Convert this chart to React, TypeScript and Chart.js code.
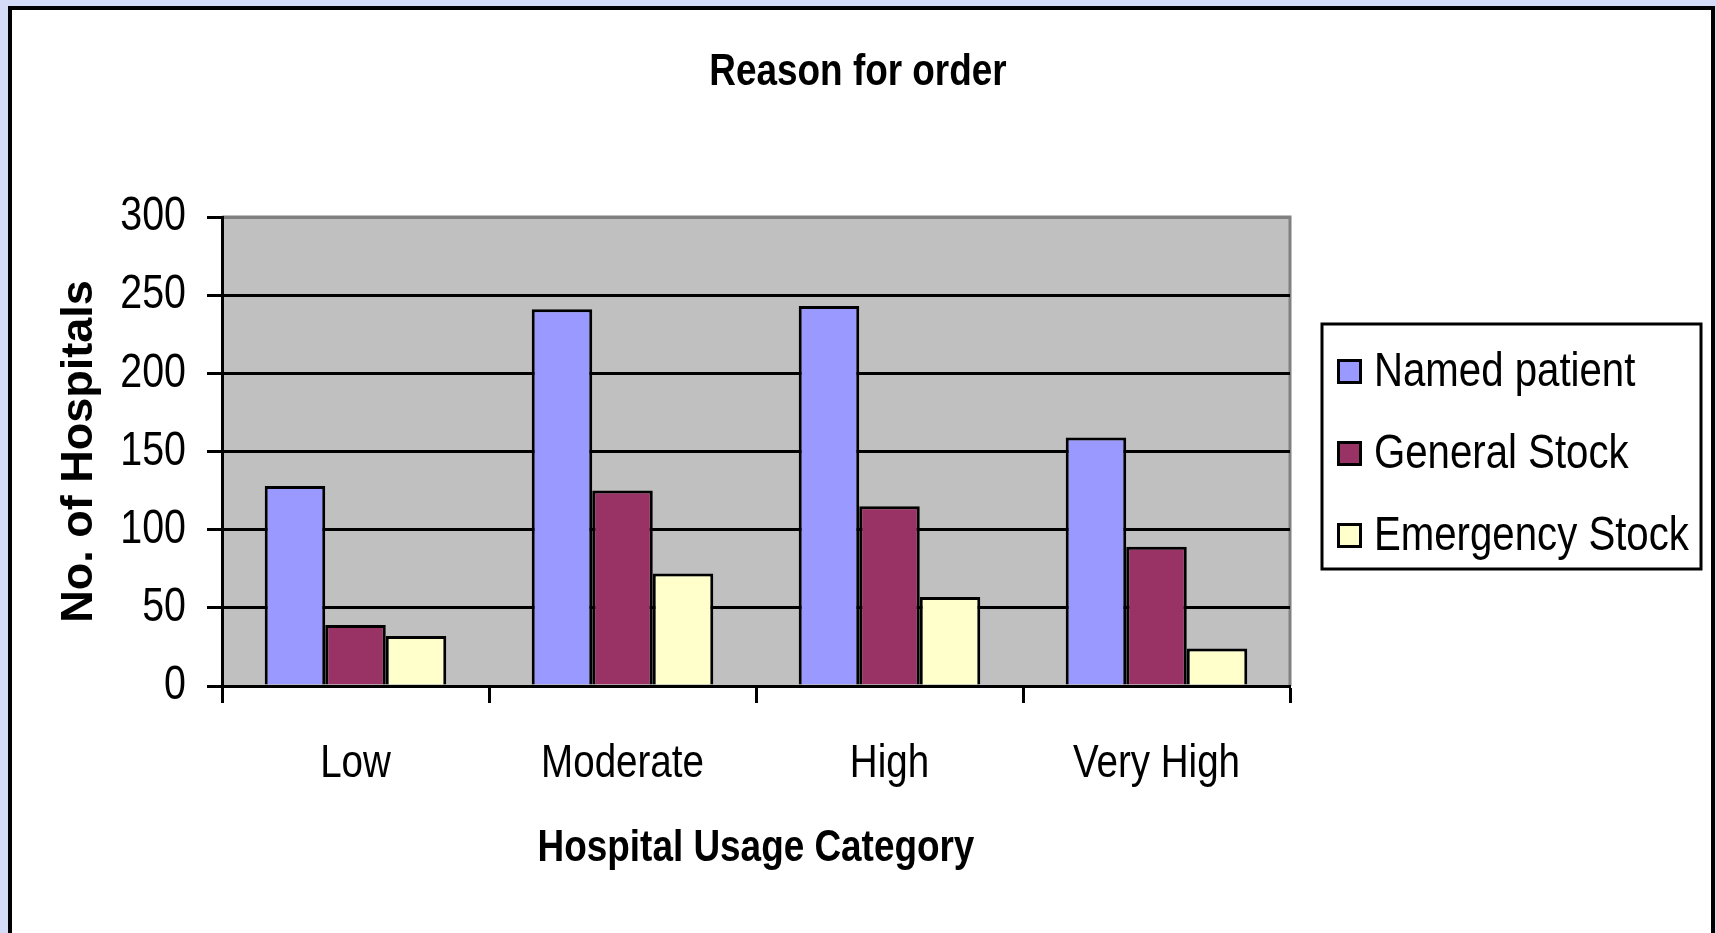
import React, { useEffect, useRef } from "react";
import { Chart, registerables } from "chart.js";

Chart.register(...registerables);

const categories = ["Low", "Moderate", "High", "Very High"];
const seriesNames = ["Named patient", "General Stock", "Emergency Stock"];
const namedPatient = [128, 241, 243, 159];
const generalStock = [39, 125, 115, 89];
const emergencyStock = [32, 72, 57, 24];
const seriesValues = [namedPatient, generalStock, emergencyStock];
const seriesColors = ["#9999FF", "#993366", "#FFFFCC"];
const yMin = 0;
const yMax = 300;
const yStep = 50;

// "Narrow" text is drawn with Liberation Sans squeezed horizontally (Arial Narrow look-alike)
const NARROW = '"Liberation Sans Narrow", "Liberation Sans", Arial, sans-serif';
const WIDE = '"Liberation Sans", Arial, sans-serif';
const NARROW_SCALE = 0.82;

function installNarrow(ctx: any) {
  if (ctx.__narrowInstalled) return;
  ctx.__narrowInstalled = true;
  const orig = ctx.fillText.bind(ctx);
  ctx.fillText = function (text: string, x: number, y: number, maxWidth?: number) {
    if (String(ctx.font).indexOf("Narrow") >= 0) {
      ctx.save();
      ctx.translate(x, y);
      ctx.scale(NARROW_SCALE, 1);
      if (maxWidth === undefined) orig(text, 0, 0);
      else orig(text, 0, 0, maxWidth / NARROW_SCALE);
      ctx.restore();
    } else if (maxWidth === undefined) {
      orig(text, x, y);
    } else {
      orig(text, x, y, maxWidth);
    }
  };
}

const plotBg = {
  id: "plotBg",
  beforeDraw(chart: any) {
    const { ctx, chartArea: a } = chart;
    ctx.save();
    ctx.fillStyle = "#C0C0C0";
    ctx.fillRect(a.left, a.top, a.right - a.left, a.bottom - a.top);
    ctx.strokeStyle = "#808080";
    ctx.lineWidth = 3;
    ctx.beginPath();
    ctx.moveTo(a.left, a.top);
    ctx.lineTo(a.right, a.top);
    ctx.lineTo(a.right, a.bottom);
    ctx.stroke();
    ctx.restore();
  },
};

const boxLegend = {
  id: "boxLegend",
  afterDraw(chart: any) {
    const { ctx, chartArea: a } = chart;
    const left = a.right + 32;
    const width = 379;
    const height = 245;
    const top = (a.top + a.bottom) / 2 - height / 2 - 5;
    ctx.save();
    ctx.fillStyle = "#FFFFFF";
    ctx.fillRect(left, top, width, height);
    ctx.strokeStyle = "#000";
    ctx.lineWidth = 3;
    ctx.strokeRect(left, top, width, height);
    ctx.font = `49px ${NARROW}`;
    ctx.textBaseline = "middle";
    ctx.textAlign = "left";
    chart.data.datasets.forEach((ds: any, i: number) => {
      const cy = top + 47 + i * 82;
      ctx.fillStyle = ds.backgroundColor;
      ctx.fillRect(left + 15, cy - 12, 25, 25);
      ctx.strokeStyle = "#000";
      ctx.lineWidth = 3;
      ctx.strokeRect(left + 16.5, cy - 10.5, 22, 22);
      ctx.fillStyle = "#000";
      ctx.fillText(ds.label, left + 52, cy + 1);
    });
    ctx.restore();
  },
};

export default function App() {
  const ref = useRef<HTMLCanvasElement>(null);

  useEffect(() => {
    document.body.style.margin = "0";
    document.body.style.background = "#D4DCF8";
    document.documentElement.style.overflow = "hidden";
    const canvas = ref.current as HTMLCanvasElement;
    installNarrow(canvas.getContext("2d"));
    const chart = new Chart(canvas, {
      type: "bar",
      data: {
        labels: categories,
        datasets: seriesNames.map((name, i) => ({
          label: name,
          data: seriesValues[i],
          backgroundColor: seriesColors[i],
          borderColor: "#000",
          borderWidth: 3,
          categoryPercentage: 0.68,
          barPercentage: 1,
        })),
      },
      options: {
        responsive: false,
        animation: false,
        layout: { padding: 0 },
        plugins: {
          legend: { display: false },
          tooltip: { enabled: false },
          title: {
            display: true,
            text: "Reason for order",
            color: "#000",
            font: { family: NARROW, size: 45, weight: "bold" },
            padding: { top: 46, bottom: 117 },
          },
        },
        scales: {
          x: {
            grid: {
              display: true,
              drawOnChartArea: false,
              drawTicks: true,
              tickLength: 17,
              tickWidth: 3,
              tickColor: "#000",
              offset: true,
            },
            border: { display: true, color: "#000", width: 3 },
            ticks: {
              color: "#000",
              font: { family: NARROW, size: 47 },
              padding: 33,
              maxRotation: 0,
              autoSkip: false,
            },
            title: {
              display: true,
              text: "Hospital Usage Category",
              color: "#000",
              font: { family: NARROW, size: 45, weight: "bold" },
              padding: { top: 0, bottom: 57 },
            },
            afterFit: (s: any) => {
              s.height = 247;
            },
          },
          y: {
            min: yMin,
            max: yMax,
            ticks: {
              stepSize: yStep,
              color: "#000",
              font: { family: NARROW, size: 48 },
              padding: 21,
            },
            grid: {
              color: (c: any) => (c.tick && c.tick.value === yMax ? "#808080" : "#000"),
              lineWidth: 3,
              tickLength: 15,
              tickColor: "#000",
              tickWidth: 3,
            },
            border: { display: true, color: "#000", width: 3 },
            title: {
              display: true,
              text: "No. of Hospitals",
              color: "#000",
              font: { family: WIDE, size: 45, weight: "bold" },
              padding: { top: 53, bottom: 0 },
            },
            afterFit: (s: any) => {
              s.width = 222;
            },
          },
          legendSpace: {
            type: "linear",
            axis: "y",
            position: "right",
            display: true,
            grid: { display: false, drawTicks: false },
            border: { display: false },
            ticks: { display: false },
            title: { display: false },
            afterFit: (s: any) => {
              s.width = 426;
            },
          },
        },
      },
      plugins: [plotBg, boxLegend],
    } as any);
    return () => chart.destroy();
  }, []);

  return (
    <div style={{ position: "relative", width: 1716, height: 933, overflow: "hidden", background: "#D4DCF8" }}>
      <div
        style={{
          position: "absolute",
          left: 8,
          top: 6,
          width: 1707,
          height: 960,
          boxSizing: "border-box",
          border: "4px solid #000",
          background: "#FFFFFF",
        }}
      />
      <canvas
        ref={ref}
        width={1716}
        height={933}
        style={{ position: "absolute", left: 0, top: 0, width: 1716, height: 933 }}
      />
    </div>
  );
}
